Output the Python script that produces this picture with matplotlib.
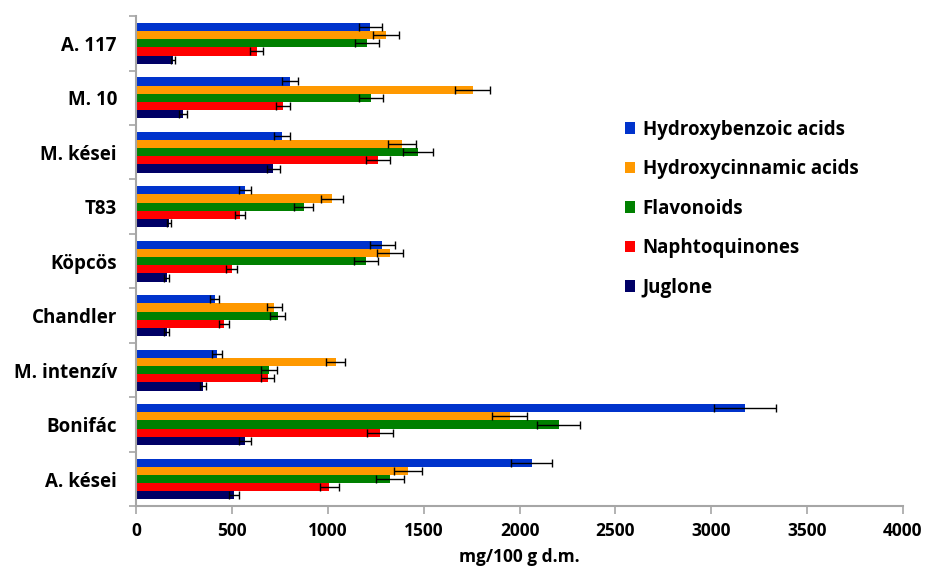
import numpy as np
import matplotlib
matplotlib.use("Agg")
import matplotlib.pyplot as plt
from matplotlib.patches import Patch

plt.rcParams['font.family'] = ['Open Sans', 'DejaVu Sans']
plt.rcParams['font.weight'] = 'bold'

# cultivars, top to bottom
cultivars = ['A. 117', 'M. 10', 'M. kései', 'T83', 'Köpcös',
             'Chandler', 'M. intenzív', 'Bonifác', 'A. kései']
series = ['Hydroxybenzoic acids', 'Hydroxycinnamic acids', 'Flavonoids',
          'Naphtoquinones', 'Juglone']
colors = ['#0033CC', '#FF9900', '#008000', '#FF0000', '#000066']

hydroxybenzoic = [1220, 802, 762, 566, 1283, 408, 420, 3175, 2062]
hydroxycinnamic = [1300, 1754, 1386, 1021, 1323, 720, 1039, 1947, 1417]
flavonoids = [1203, 1225, 1470, 873, 1198, 737, 692, 2203, 1323]
naphtoquinones = [628, 767, 1260, 540, 497, 455, 685, 1271, 1006]
juglone = [191, 244, 715, 169, 157, 157, 347, 566, 511]

err_hydroxybenzoic = [61, 43, 42, 33, 66, 23, 28, 160, 106]
err_hydroxycinnamic = [68, 91, 71, 56, 66, 40, 51, 92, 75]
err_flavonoids = [61, 61, 78, 51, 61, 40, 40, 112, 71]
err_naphtoquinones = [35, 37, 61, 26, 30, 26, 35, 68, 49]
err_juglone = [10, 21, 33, 12, 12, 12, 16, 33, 26]

values = [hydroxybenzoic, hydroxycinnamic, flavonoids, naphtoquinones, juglone]
errors = [err_hydroxybenzoic, err_hydroxycinnamic, err_flavonoids,
          err_naphtoquinones, err_juglone]

fig = plt.figure(figsize=(9.28, 5.74), dpi=100)
ax = fig.add_axes([0.147, 0.118, 0.826, 0.854])

n = len(cultivars)
pos = np.arange(n)[::-1]  # first cultivar at the top
h = 0.15
for i, (vals, errs, c, lab) in enumerate(zip(values, errors, colors, series)):
    y = pos + (2 - i) * h
    ax.barh(y, vals, height=h, color=c, label=lab,
            xerr=errs, error_kw=dict(ecolor='black', elinewidth=1.0,
                                     capsize=3, capthick=1.0))

ax.set_xlim(0, 4000)
ax.set_ylim(-0.5, n - 0.5)
ax.set_xticks(np.arange(0, 4001, 500))
ax.set_yticks(pos)
ax.set_yticklabels(cultivars)
ax.set_yticks(np.arange(-0.5, n, 1.0), minor=True)

for s in ['top', 'right']:
    ax.spines[s].set_visible(False)
for s in ['left', 'bottom']:
    ax.spines[s].set_color('#A6A6A6')
    ax.spines[s].set_linewidth(1.5)

ax.tick_params(axis='y', which='major', length=0, pad=14, labelsize=13.5)
ax.tick_params(axis='y', which='minor', length=5, color='#A6A6A6', width=1.2)
ax.tick_params(axis='x', which='major', length=6, color='#A6A6A6', width=1.2,
               labelsize=12.5, pad=5)
for t in ax.get_xticklabels() + ax.get_yticklabels():
    t.set_fontweight('bold')

ax.set_xlabel('mg/100 g d.m.', fontsize=12.5, fontweight='bold', labelpad=6)

handles = [Patch(facecolor=c, label=l) for c, l in zip(colors, series)]
ax.legend(handles=handles, loc='upper left', bbox_to_anchor=(0.615, 0.823),
          frameon=False, handlelength=0.55, handleheight=0.55, handletextpad=0.4,
          labelspacing=1.04, prop=dict(size=13.5, weight='bold'))

fig.savefig('out.png', dpi=100)
